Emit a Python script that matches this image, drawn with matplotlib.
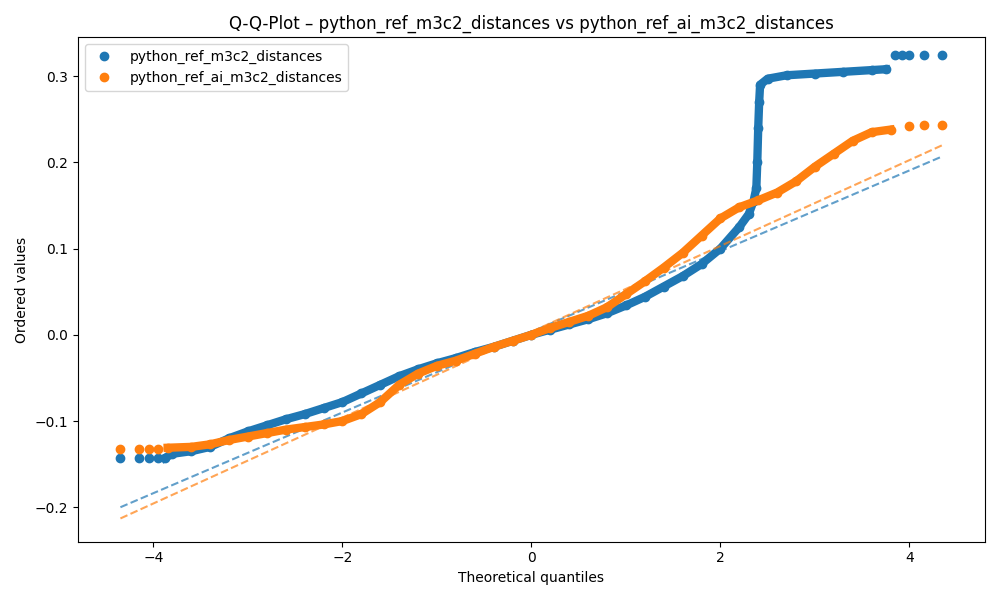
import numpy as np
import matplotlib.pyplot as plt

# quantiles
x_ref = [-4.35, -4.15, -4.05, -3.95, -3.88, -3.8, -3.6, -3.4, -3.2, -3.0, -2.8, -2.6, -2.4,
         -2.2, -2.0, -1.8, -1.6, -1.4, -1.2, -1.0, -0.8, -0.6, -0.4, -0.2, 0.0, 0.2, 0.4,
         0.6, 0.8, 1.0, 1.2, 1.4, 1.6, 1.8, 2.0, 2.2, 2.3, 2.35, 2.38, 2.39, 2.4, 2.41,
         2.42, 2.5, 2.7, 3.0, 3.3, 3.6, 3.75, 3.85, 3.92, 4.0, 4.15, 4.35]
y_ref = [-0.143, -0.143, -0.143, -0.143, -0.143, -0.138, -0.135, -0.13, -0.12, -0.112,
         -0.105, -0.098, -0.092, -0.085, -0.078, -0.068, -0.058, -0.048, -0.04, -0.033,
         -0.027, -0.02, -0.014, -0.007, 0.0, 0.006, 0.012, 0.018, 0.025, 0.034, 0.044,
         0.056, 0.068, 0.082, 0.1, 0.125, 0.14, 0.155, 0.17, 0.2, 0.24, 0.27, 0.29,
         0.297, 0.301, 0.303, 0.305, 0.307, 0.308, 0.325, 0.325, 0.325, 0.325, 0.325]

x_ai = [-4.35, -4.15, -4.05, -3.95, -3.85, -3.6, -3.4, -3.2, -3.0, -2.8, -2.6, -2.4, -2.2,
        -2.0, -1.8, -1.6, -1.4, -1.2, -1.0, -0.8, -0.6, -0.4, -0.2, 0.0, 0.2, 0.4, 0.6,
        0.8, 1.0, 1.2, 1.4, 1.6, 1.8, 2.0, 2.2, 2.4, 2.6, 2.8, 3.0, 3.2, 3.4, 3.6, 3.8,
        4.0, 4.15, 4.35]
y_ai = [-0.133, -0.133, -0.133, -0.133, -0.131, -0.13, -0.127, -0.122, -0.118, -0.114,
        -0.11, -0.107, -0.104, -0.1, -0.092, -0.078, -0.058, -0.045, -0.036, -0.03,
        -0.022, -0.014, -0.007, 0.0, 0.008, 0.015, 0.022, 0.032, 0.047, 0.062, 0.078,
        0.095, 0.115, 0.135, 0.148, 0.156, 0.165, 0.178, 0.195, 0.21, 0.225, 0.235,
        0.238, 0.242, 0.243, 0.243]

# fit lines (endpoints)
fit_x = [-4.35, 4.35]
fit_ref = [-0.2, 0.207]
fit_ai = [-0.213, 0.22]

plt.figure(figsize=(10, 6))
plt.plot(x_ref, y_ref, "o", color="C0", label="python_ref_m3c2_distances")
plt.plot(x_ref[4:-5], y_ref[4:-5], "-", color="C0", linewidth=6)
plt.plot(fit_x, fit_ref, "--", color="C0", alpha=0.7)
plt.plot(x_ai, y_ai, "o", color="C1", label="python_ref_ai_m3c2_distances")
plt.plot(x_ai[4:-3], y_ai[4:-3], "-", color="C1", linewidth=6)
plt.plot(fit_x, fit_ai, "--", color="C1", alpha=0.7)

plt.title("Q-Q-Plot – python_ref_m3c2_distances vs python_ref_ai_m3c2_distances")
plt.xlabel("Theoretical quantiles")
plt.ylabel("Ordered values")
plt.xlim(-4.8, 4.8)
plt.ylim(-0.24, 0.345)
plt.legend(loc="upper left")
plt.tight_layout()
plt.savefig("out.png", dpi=100)
